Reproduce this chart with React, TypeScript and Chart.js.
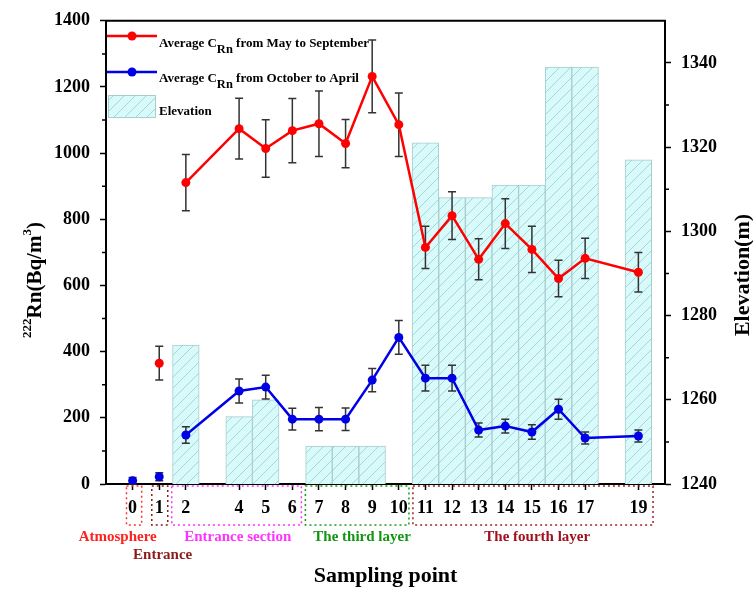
import React, { useEffect, useRef } from 'react';
import { Chart, registerables } from 'chart.js';

Chart.register(...registerables);

// ---------------- data ----------------
const samplingPoints = [0, 1, 2, 4, 5, 6, 7, 8, 9, 10, 11, 12, 13, 14, 15, 16, 17, 19];
const radonMaySep = [null, 365, 911, 1074, 1014, 1068, 1089, 1029, 1232, 1086, 715, 811, 679, 787, 709, 621, 682, 640];
const radonMaySepErr = [null, 51, 85, 92, 87, 97, 99, 73, 110, 96, 64, 72, 62, 75, 70, 55, 61, 60];
const radonOctApr = [10, 22, 148, 281, 293, 196, 196, 196, 314, 443, 320, 320, 163, 175, 157, 226, 139, 145];
const radonOctAprErr = [10, 12, 25, 36, 36, 33, 35, 34, 35, 51, 39, 39, 21, 21, 22, 30, 18, 18];
const elevationPoints = [2, 4, 5, 7, 8, 9, 11, 12, 13, 14, 15, 16, 17, 19];
const elevation = [1273, 1256, 1260, 1249, 1249, 1249, 1321, 1308, 1308, 1311, 1311, 1339, 1339, 1317];
const xTickValues = [0, 1, 2, 4, 5, 6, 7, 8, 9, 10, 11, 12, 13, 14, 15, 16, 17, 19];
const leftTickValues = [0, 200, 400, 600, 800, 1000, 1200, 1400];
const leftMinorTicks = [100, 300, 500, 700, 900, 1100, 1300];
const rightTickValues = [1240, 1260, 1280, 1300, 1320, 1340];
const rightMinorTicks = [1250, 1270, 1290, 1310, 1330];
const legendLabels = ['from May to September', 'from October to April', 'Elevation'];
const groupLabels = ['Atmosphere', 'Entrance', 'Entrance section', 'The third layer', 'The fourth layer'];

const FONT = "'Times New Roman', 'Liberation Serif', serif";
const RED = '#ff0000';
const BLUE = '#0000e6';

type Run = { t: string; size: number; dy: number };

function runsWidth(ctx: CanvasRenderingContext2D, runs: Run[]) {
  let w = 0;
  for (const r of runs) {
    ctx.font = `bold ${r.size}px ${FONT}`;
    w += ctx.measureText(r.t).width;
  }
  return w;
}

function drawRuns(ctx: CanvasRenderingContext2D, runs: Run[], x: number, y: number) {
  let cx = x;
  ctx.textBaseline = 'alphabetic';
  ctx.textAlign = 'left';
  for (const r of runs) {
    ctx.font = `bold ${r.size}px ${FONT}`;
    ctx.fillText(r.t, cx, y + r.dy);
    cx += ctx.measureText(r.t).width;
  }
}

function makeHatch(): CanvasPattern | string {
  const c = document.createElement('canvas');
  const s = 11;
  c.width = s;
  c.height = s;
  const g = c.getContext('2d');
  if (!g) return '#d8fafa';
  g.fillStyle = '#d8fafa';
  g.fillRect(0, 0, s, s);
  g.strokeStyle = '#a3d8d8';
  g.lineWidth = 1;
  g.beginPath();
  g.moveTo(0, s);
  g.lineTo(s, 0);
  g.moveTo(-s, s);
  g.lineTo(0, 0);
  g.moveTo(s, 2 * s);
  g.lineTo(2 * s, s);
  g.stroke();
  const p = g.createPattern(c, 'repeat');
  return p || '#d8fafa';
}

const decorPlugin = {
  id: 'decor',
  afterDatasetDraw(chart: any, args: any) {
    if (args.index !== 2) return;
    const ctx: CanvasRenderingContext2D = chart.ctx;
    const xs = chart.scales.x;
    const ys = chart.scales.y;
    const series = [
      { v: radonMaySep, e: radonMaySepErr },
      { v: radonOctApr, e: radonOctAprErr },
    ];
    ctx.save();
    ctx.strokeStyle = '#333333';
    ctx.lineWidth = 1.5;
    for (const s of series) {
      samplingPoints.forEach((p, i) => {
        const v = s.v[i];
        const e = s.e[i];
        if (v == null || e == null) return;
        const px = xs.getPixelForValue(p);
        const top = ys.getPixelForValue(v + e);
        const bot = ys.getPixelForValue(v - e);
        ctx.beginPath();
        ctx.moveTo(px, top);
        ctx.lineTo(px, bot);
        ctx.moveTo(px - 4, top);
        ctx.lineTo(px + 4, top);
        ctx.moveTo(px - 4, bot);
        ctx.lineTo(px + 4, bot);
        ctx.stroke();
      });
    }
    ctx.restore();
  },
  afterDraw(chart: any) {
    const ctx: CanvasRenderingContext2D = chart.ctx;
    const { left, right, top, bottom } = chart.chartArea;
    const xs = chart.scales.x;
    const ys = chart.scales.y;
    const y1 = chart.scales.y1;
    ctx.save();
    // top border
    ctx.strokeStyle = '#000';
    ctx.lineWidth = 2;
    ctx.beginPath();
    ctx.moveTo(left - 1, top);
    ctx.lineTo(right + 1, top);
    ctx.stroke();
    // minor ticks
    ctx.lineWidth = 1.5;
    ctx.beginPath();
    for (const v of leftMinorTicks) {
      const py = ys.getPixelForValue(v);
      ctx.moveTo(left, py);
      ctx.lineTo(left - 4, py);
    }
    for (const v of rightMinorTicks) {
      const py = y1.getPixelForValue(v);
      ctx.moveTo(right, py);
      ctx.lineTo(right + 4, py);
    }
    ctx.stroke();

    // legend
    const lx0 = left + 1;
    const lx1 = left + 51;
    const lineYs = [36, 72];
    const colors = [RED, BLUE];
    const baseYs = [47, 82];
    for (let i = 0; i < 2; i++) {
      ctx.strokeStyle = colors[i];
      ctx.lineWidth = 2.5;
      ctx.beginPath();
      ctx.moveTo(lx0, lineYs[i]);
      ctx.lineTo(lx1, lineYs[i]);
      ctx.stroke();
      ctx.fillStyle = colors[i];
      ctx.beginPath();
      ctx.arc((lx0 + lx1) / 2, lineYs[i], 4.5, 0, Math.PI * 2);
      ctx.fill();
      ctx.fillStyle = '#000';
      drawRuns(ctx, [
        { t: 'Average C', size: 13, dy: 0 },
        { t: 'Rn', size: 12.5, dy: 6 },
        { t: ' ' + legendLabels[i], size: 13, dy: 0 },
      ], lx1 + 2, baseYs[i]);
    }
    ctx.fillStyle = makeHatch() as any;
    ctx.fillRect(lx0 + 1, 95, 48, 23);
    ctx.strokeStyle = '#a9cccc';
    ctx.lineWidth = 1;
    ctx.strokeRect(lx0 + 1.5, 95.5, 47, 22);
    ctx.fillStyle = '#000';
    drawRuns(ctx, [{ t: legendLabels[2], size: 13, dy: 0 }], lx1 + 2, 115);

    // group boxes
    const boxes = [
      { a: -0.23, b: 0.34, c: '#ff3030' },
      { a: 0.72, b: 1.32, c: '#8b1a1a' },
      { a: 1.47, b: 6.34, c: '#ff33ff' },
      { a: 6.49, b: 10.38, c: '#1a9a1a' },
      { a: 10.53, b: 19.55, c: '#a0202a' },
    ];
    ctx.lineWidth = 1.5;
    ctx.setLineDash([2, 3]);
    for (const bx of boxes) {
      const xa = xs.getPixelForValue(bx.a);
      const xb = xs.getPixelForValue(bx.b);
      ctx.strokeStyle = bx.c;
      ctx.strokeRect(xa, bottom + 2, xb - xa, 39);
    }
    ctx.setLineDash([]);

    // group labels
    const labelPos = [
      { x: -0.56, y: 537, c: '#ff2020' },
      { x: 1.13, y: 555, c: '#8b1a1a' },
      { x: 3.95, y: 537, c: '#ff33ff' },
      { x: 8.62, y: 537, c: '#129512' },
      { x: 15.2, y: 537, c: '#a0101e' },
    ];
    ctx.font = `bold 15px ${FONT}`;
    ctx.textAlign = 'center';
    ctx.textBaseline = 'middle';
    groupLabels.forEach((t, i) => {
      ctx.fillStyle = labelPos[i].c;
      ctx.fillText(t, xs.getPixelForValue(labelPos[i].x), labelPos[i].y);
    });

    // x title
    ctx.fillStyle = '#000';
    ctx.font = `bold 22px ${FONT}`;
    ctx.textAlign = 'center';
    ctx.textBaseline = 'middle';
    ctx.fillText('Sampling point', (left + right) / 2, 576);

    // left title
    const leftRuns: Run[] = [
      { t: '222', size: 13, dy: -10 },
      { t: 'Rn(Bq/m', size: 21, dy: 0 },
      { t: '3', size: 13, dy: -10 },
      { t: ')', size: 21, dy: 0 },
    ];
    ctx.save();
    ctx.translate(33, 280);
    ctx.rotate(-Math.PI / 2);
    const lw = runsWidth(ctx, leftRuns);
    drawRuns(ctx, leftRuns, -lw / 2, 8);
    ctx.restore();

    // right title
    const rightRuns: Run[] = [{ t: 'Elevation(m)', size: 22, dy: 0 }];
    ctx.save();
    ctx.translate(741, 275);
    ctx.rotate(-Math.PI / 2);
    const rw = runsWidth(ctx, rightRuns);
    drawRuns(ctx, rightRuns, -rw / 2, 8);
    ctx.restore();

    ctx.restore();
  },
};

export default function App() {
  const ref = useRef<HTMLCanvasElement | null>(null);
  useEffect(() => {
    if (!ref.current) return;
    const hide = (ctx: any) => (ctx.p0.parsed.x < 1.5 ? 'rgba(0,0,0,0)' : undefined);
    const tickFont = { family: FONT, size: 18, weight: 'bold' as const };
    const plain = (v: any) => String(v);
    const chart = new Chart(ref.current, {
      type: 'line',
      data: {
        datasets: [
          {
            type: 'line',
            label: 'Average CRn from May to September',
            data: samplingPoints.map((x, i) => ({ x, y: radonMaySep[i] })) as any,
            borderColor: RED,
            backgroundColor: RED,
            pointBackgroundColor: RED,
            pointBorderWidth: 0,
            pointRadius: 4.5,
            borderWidth: 2.5,
            yAxisID: 'y',
            order: 1,
            spanGaps: false,
            segment: { borderColor: hide },
          },
          {
            type: 'line',
            label: 'Average CRn from October to April',
            data: samplingPoints.map((x, i) => ({ x, y: radonOctApr[i] })),
            borderColor: BLUE,
            backgroundColor: BLUE,
            pointBackgroundColor: BLUE,
            pointBorderWidth: 0,
            pointRadius: 4.5,
            borderWidth: 2.5,
            yAxisID: 'y',
            order: 2,
            segment: { borderColor: hide },
          },
          {
            type: 'bar',
            label: 'Elevation',
            data: elevationPoints.map((x, i) => ({ x, y: elevation[i] })),
            backgroundColor: makeHatch() as any,
            borderColor: '#a9cccc',
            borderWidth: 1,
            barPercentage: 1,
            categoryPercentage: 1,
            yAxisID: 'y1',
            order: 3,
          } as any,
        ],
      },
      options: {
        responsive: false,
        animation: false,
        devicePixelRatio: 1,
        layout: { padding: { top: 20, left: 0, right: 0, bottom: 0 } },
        plugins: { legend: { display: false }, tooltip: { enabled: false } },
        scales: {
          x: {
            type: 'linear',
            min: -1,
            max: 20,
            offset: false,
            position: 'bottom',
            afterBuildTicks: (s: any) => {
              s.ticks = xTickValues.map((v) => ({ value: v }));
            },
            afterFit: (s: any) => {
              s.height = 106;
            },
            grid: { drawOnChartArea: false, drawTicks: true, tickLength: 6, tickColor: '#000', tickWidth: 1.5, offset: false },
            border: { color: '#000', width: 2 },
            ticks: { font: tickFont, color: '#000', padding: 8, autoSkip: false, maxRotation: 0, callback: plain },
          },
          y: {
            type: 'linear',
            min: 0,
            max: 1400,
            position: 'left',
            afterBuildTicks: (s: any) => {
              s.ticks = leftTickValues.map((v) => ({ value: v }));
            },
            afterFit: (s: any) => {
              s.width = 106;
            },
            grid: { drawOnChartArea: false, drawTicks: true, tickLength: 6, tickColor: '#000', tickWidth: 1.5 },
            border: { color: '#000', width: 2 },
            ticks: { font: tickFont, color: '#000', padding: 10, callback: plain },
          },
          y1: {
            type: 'linear',
            min: 1240,
            max: 1350,
            position: 'right',
            afterBuildTicks: (s: any) => {
              s.ticks = rightTickValues.map((v) => ({ value: v }));
            },
            afterFit: (s: any) => {
              s.width = 88;
            },
            grid: { drawOnChartArea: false, drawTicks: true, tickLength: 6, tickColor: '#000', tickWidth: 1.5 },
            border: { color: '#000', width: 2 },
            ticks: { font: tickFont, color: '#000', padding: 10, callback: plain },
          },
        },
      },
      plugins: [decorPlugin],
    } as any);
    return () => chart.destroy();
  }, []);
  return (
    <div style={{ position: 'fixed', left: 0, top: 0, width: 753, height: 590, background: '#fff' }}>
      <canvas ref={ref} width={753} height={590} style={{ display: 'block', width: 753, height: 590 }} />
    </div>
  );
}
